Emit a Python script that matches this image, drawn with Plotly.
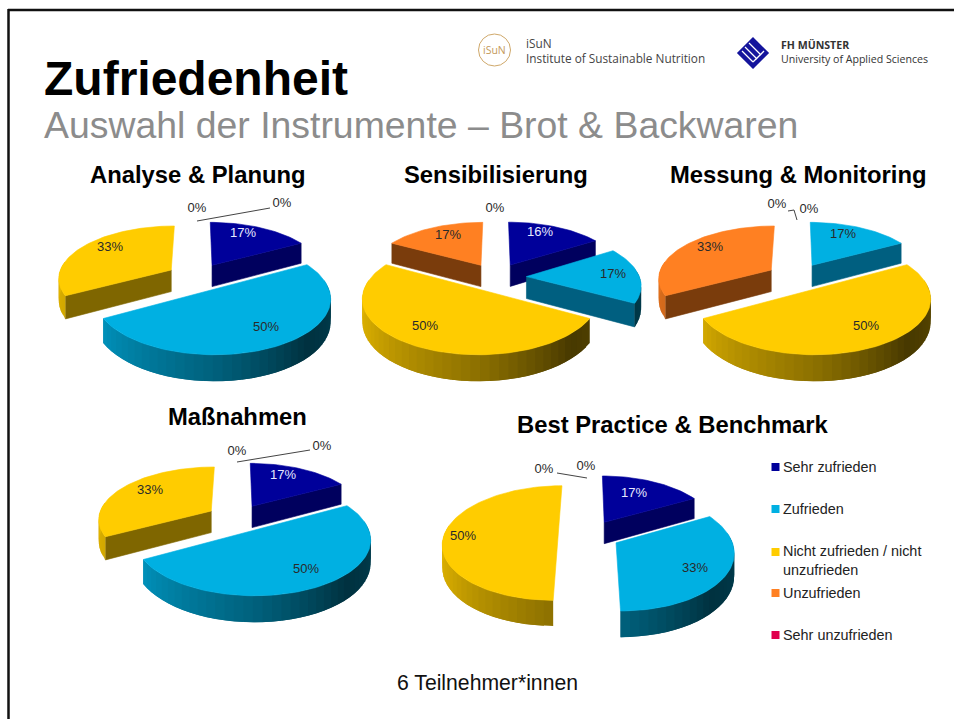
import math
import plotly.graph_objects as go

# Satisfaction categories and their colours
categories = ["Sehr zufrieden", "Zufrieden", "Nicht zufrieden / nicht<br>unzufrieden", "Unzufrieden", "Sehr unzufrieden"]
top_colors = ["#00009a", "#00b0e2", "#ffcc00", "#ff8022", "#e0004d"]
side_colors = ["#00005e", "#005f80", "#7f6600", "#7a3c0c", "#700026"]

# Survey shares in percent per instrument
analyse_values = [17, 50, 33, 0, 0]
sensibilisierung_values = [16, 17, 50, 17, 0]
messung_values = [0, 17, 50, 33, 0]
massnahmen_values = [17, 50, 33, 0, 0]
best_practice_values = [17, 33, 50, 0, 0]

pie_titles = ["Analyse & Planung", "Sensibilisierung", "Messung & Monitoring", "Maßnahmen", "Best Practice & Benchmark"]

# Page placement of each pie: centre x, centre y, x scale, y scale
pie_layout = [(197, 277, 1.0, 1.0), (496, 277, 1.0, 1.0), (797, 277, 1.0, 1.0),
              (237, 518, 1.0, 1.0), (589, 535, 1.01, 1.08)]
title_layout = [(197.5, 174), (495.5, 174), (797.5, 174), (237, 416), (672.5, 424)]

# Data label centres as (slice index, x, y), in slice order
label_layout = [
    [(0, 243, 234), (1, 266, 328), (2, 110, 248), (3, 197, 209), (4, 282, 204)],
    [(0, 540, 233), (1, 613, 275), (2, 425, 327), (3, 448, 236), (4, 495, 209)],
    [(0, 777, 205), (1, 843, 235), (2, 866, 327), (3, 710, 248), (4, 809, 210)],
    [(0, 283, 476), (1, 306, 570), (2, 150, 491), (3, 237, 452), (4, 322, 447)],
    [(0, 634, 494), (1, 695, 569), (2, 463, 537), (3, 544, 470), (4, 586, 467)],
]

# Leader lines from the empty slices to their labels
leaders = [
    [(197, 221), (270, 208)],
    [(788, 211), (794, 210), (797, 220)],
    [(237, 462), (310, 450)],
    [(557, 473), (587, 478)],
]

legend_rows = [467, 509, 552, 593, 635]

RX, RY, DEPTH, EXPLODE, PERSPECTIVE = 113, 52, 22, 0.27, 0.14
FONT = "Liberation Sans"


def project(pie, x, z, drop=0.0):
    cx, cy, sx, sy = pie
    d = 1 - PERSPECTIVE * z
    return cx + sx * RX * x / d, cy + (sy * RY * z + drop) / d


def rim(theta, mid):
    t, m = math.radians(theta), math.radians(mid)
    return math.sin(t) + EXPLODE * math.sin(m), -math.cos(t) - EXPLODE * math.cos(m)


def apex(mid):
    m = math.radians(mid)
    return EXPLODE * math.sin(m), -EXPLODE * math.cos(m)


def shade_at(theta):
    # Brightness of the outer wall, lit from the left
    stops = [(60, 0.42), (80, 0.40), (105, 0.33), (135, 0.28), (180, 0.55), (240, 0.82), (300, 0.95)]
    if theta <= stops[0][0]:
        return stops[0][1]
    for (a, va), (b, vb) in zip(stops, stops[1:]):
        if theta <= b:
            return va + (vb - va) * (theta - a) / (b - a)
    return stops[-1][1]


def scaled(hex_color, f):
    r, g, b = (int(hex_color[i:i + 2], 16) for i in (1, 3, 5))
    return f"rgb({round(r * f)},{round(g * f)},{round(b * f)})"


fig = go.Figure()


def polygon(points, color, edge=0.6):
    fig.add_trace(go.Scatter(
        x=[p[0] for p in points] + [points[0][0]],
        y=[p[1] for p in points] + [points[0][1]],
        mode="lines", fill="toself", fillcolor=color,
        line=dict(color=color, width=edge),
        hoverinfo="skip", showlegend=False,
    ))


def arc_angles(a, b, step=2.0):
    n = max(2, int((b - a) / step) + 1)
    return [a + (b - a) * i / (n - 1) for i in range(n)]


def draw_pie(values, pie):
    total = sum(values)
    wedges, start = [], 0.0
    for i, v in enumerate(values):
        sweep = 360.0 * v / total
        if v > 0:
            wedges.append((i, start, start + sweep, start + sweep / 2))
        start += sweep
    wedges.sort(key=lambda w: apex(w[3])[1])
    for i, a, b, mid in wedges:
        ax, az = apex(mid)
        # Cut faces that turn towards the viewer
        for theta, visible in ((a, math.sin(math.radians(a)) < -1e-6), (b, math.sin(math.radians(b)) > 1e-6)):
            if visible:
                rx, rz = rim(theta, mid)
                polygon([project(pie, ax, az), project(pie, rx, rz),
                         project(pie, rx, rz, DEPTH), project(pie, ax, az, DEPTH)], side_colors[i])
        # Outer wall in narrow overlapping bands for the shading
        lo, hi = max(a, 80), min(b, 280)
        if hi > lo:
            angles = arc_angles(lo, hi, 4.0)
            for k, (t0, t1) in enumerate(zip(angles, angles[1:])):
                t2 = angles[min(k + 2, len(angles) - 1)]
                band = [t0, t1, t2]
                rim_pts = [rim(t, mid) for t in band]
                polygon([project(pie, *p) for p in rim_pts] + [project(pie, *p, DEPTH) for p in reversed(rim_pts)],
                        scaled(top_colors[i], shade_at((t0 + t1) / 2)), edge=0)
        # Top face
        face = [project(pie, ax, az)] + [project(pie, *rim(t, mid)) for t in arc_angles(a, b)]
        polygon(face, top_colors[i])


all_values = [analyse_values, sensibilisierung_values, messung_values, massnahmen_values, best_practice_values]
for vals, pie in zip(all_values, pie_layout):
    draw_pie(vals, pie)

# Percentage labels
for vals, labels in zip(all_values, label_layout):
    fig.add_trace(go.Scatter(
        x=[l[1] for l in labels], y=[l[2] for l in labels],
        text=[f"{vals[l[0]]}%" for l in labels],
        mode="text", textposition="middle center",
        textfont=dict(family=FONT, size=13,
                      color=["#e6e8ff" if (l[0] == 0 and vals[0] > 0) else "#2a2a2a" for l in labels]),
        hoverinfo="skip", showlegend=False,
    ))

for path in leaders:
    fig.add_trace(go.Scatter(x=[p[0] for p in path], y=[p[1] for p in path], mode="lines",
                             line=dict(color="#444444", width=1), hoverinfo="skip", showlegend=False))

# Legend column
fig.add_trace(go.Scatter(
    x=[775.5] * len(categories), y=legend_rows, mode="markers",
    marker=dict(symbol="square", size=8, color=top_colors[:len(categories)]),
    hoverinfo="skip", showlegend=False,
))


def text(x, y, s, size, color="#000000", bold=False, anchor="center", family=FONT, **kw):
    fig.add_annotation(x=x, y=y, xref="x", yref="y", text=f"<b>{s}</b>" if bold else s, showarrow=False,
                       xanchor=anchor, yanchor="middle", font=dict(family=family, size=size, color=color),
                       align="left", **kw)


for name, y in zip(categories, legend_rows):
    off = 8 if "<br>" in name else 0
    text(781, y + off, name, 14.4, "#222222", anchor="left")

for name, (x, y) in zip(pie_titles, title_layout):
    text(x, y, name, 23.8, bold=True)

text(41.5, 78, "Zufriedenheit", 48, bold=True, anchor="left")
text(41.5, 125, "Auswahl der Instrumente – Brot &amp; Backwaren", 37.4, "#8c8c8c", anchor="left")
text(487.5, 682, "6 Teilnehmer*innen", 21.2, "#111111")

# Institute marks in the header
text(523.5, 50.5, "iSuN<br>Institute of Sustainable Nutrition", 11.8, "#444444", anchor="left", family="Open Sans")
text(778.5, 52, "<b>FH MÜNSTER</b><br>University of Applied Sciences", 10.6, "#333333", anchor="left", family="Open Sans")
text(494, 50, "iSuN", 10.5, "#c49a5a", family="Open Sans")

logo_stripe = dict(color="#ffffff", width=1.3)
shapes = [
    dict(type="circle", x0=478.5, x1=510.5, y0=34, y1=66, line=dict(color="#cfa86a", width=1)),
    dict(type="path", path="M739 53 L753 39 L767 53 L753 67 Z", fillcolor="#14149c",
         line=dict(color="#14149c", width=3)),
    dict(type="line", x0=745, y0=47, x1=757, y1=59, line=logo_stripe),
    dict(type="line", x0=749, y0=43, x1=761, y1=55, line=logo_stripe),
    dict(type="line", x0=742, y0=51, x1=753, y1=62, line=logo_stripe),
    dict(type="line", x0=753, y0=62, x1=764, y1=51, line=logo_stripe),
    dict(type="line", x0=8, y0=10, x1=954, y1=10, line=dict(color="#111111", width=2.5)),
    dict(type="line", x0=8.5, y0=9, x1=8.5, y1=719, line=dict(color="#111111", width=2.5)),
]

fig.update_layout(
    width=954, height=719, autosize=False,
    margin=dict(l=0, r=0, t=0, b=0),
    paper_bgcolor="#ffffff", plot_bgcolor="#ffffff",
    showlegend=False, shapes=shapes,
    xaxis=dict(range=[0, 954], visible=False, fixedrange=True),
    yaxis=dict(range=[719, 0], visible=False, fixedrange=True),
)

fig.write_html("out.html")
